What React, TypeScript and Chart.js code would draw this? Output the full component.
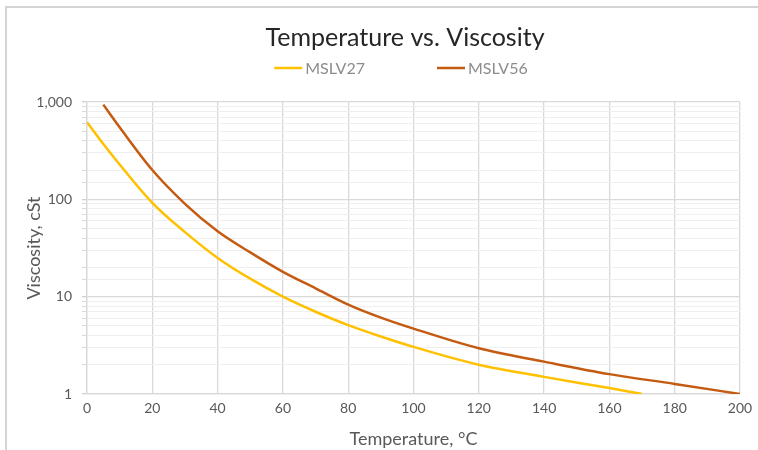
import { useEffect, useRef } from 'react';
import { Chart, registerables } from 'chart.js';

Chart.register(...registerables);

// ---- data ----
const chartTitle = 'Temperature vs. Viscosity';
const xAxisTitle = 'Temperature, °C';
const yAxisTitle = 'Viscosity, cSt';
const seriesNames = ['MSLV27', 'MSLV56'];
const seriesColors = ['#FFC000', '#C55A11'];

const temps27 = [0, 5, 10, 20, 30, 40, 50, 60, 70, 80, 90, 100, 120, 140, 160, 170];
const visc27 = [620, 370, 228, 92, 46, 25, 15.3, 10, 7.0, 5.1, 3.9, 3.05, 2.0, 1.5, 1.15, 1.0];

const temps56 = [5, 10, 20, 30, 40, 50, 60, 70, 80, 90, 100, 120, 140, 160, 180, 200];
const visc56 = [940, 550, 200, 90, 47, 28.5, 18, 12.2, 8.3, 6.1, 4.7, 2.95, 2.15, 1.6, 1.27, 1.0];

const xMin = 0;
const xMax = 200;
const xStep = 20;
const yMin = 1;
const yMax = 1000;

const isMajor = (v: number) => Math.abs(Math.log10(v) - Math.round(Math.log10(v))) < 1e-9;

const legendPlugin = {
  id: 'customLegend',
  afterDraw(chart: any) {
    const ctx = chart.ctx;
    const ds = chart.data.datasets;
    ctx.save();
    ctx.font = '16px Lato';
    const lineLen = 28;
    const gap = 3;
    const between = 72;
    const widths = ds.map((d: any) => lineLen + gap + ctx.measureText(d.label).width);
    const total = widths.reduce((a: number, b: number) => a + b, 0) + between * (ds.length - 1);
    let x = chart.width / 2 - total / 2 - 4;
    const y = 68;
    ds.forEach((d: any, i: number) => {
      ctx.strokeStyle = d.borderColor;
      ctx.lineWidth = 2.5;
      ctx.beginPath();
      ctx.moveTo(x, y);
      ctx.lineTo(x + lineLen, y);
      ctx.stroke();
      ctx.fillStyle = '#8c8c8c';
      ctx.textAlign = 'left';
      ctx.textBaseline = 'middle';
      ctx.fillText(d.label, x + lineLen + gap, y + 1);
      x += widths[i] + between;
    });
    ctx.restore();
  },
};

export default function App() {
  const ref = useRef<HTMLCanvasElement | null>(null);

  useEffect(() => {
    const canvas = ref.current;
    if (!canvas) return;
    const chart = new Chart(canvas, {
      type: 'scatter',
      data: {
        datasets: [
          {
            label: seriesNames[0],
            data: temps27.map((t, i) => ({ x: t, y: visc27[i] })),
            borderColor: seriesColors[0],
            backgroundColor: seriesColors[0],
            showLine: true,
            borderWidth: 2.5,
            pointRadius: 0,
            cubicInterpolationMode: 'monotone',
          },
          {
            label: seriesNames[1],
            data: temps56.map((t, i) => ({ x: t, y: visc56[i] })),
            borderColor: seriesColors[1],
            backgroundColor: seriesColors[1],
            showLine: true,
            borderWidth: 2.5,
            pointRadius: 0,
            cubicInterpolationMode: 'monotone',
          },
        ],
      },
      options: {
        animation: false,
        responsive: false,
        maintainAspectRatio: false,
        layout: { padding: 0 },
        plugins: {
          legend: { display: false },
          tooltip: { enabled: false },
          title: {
            display: true,
            text: chartTitle,
            color: '#262626',
            font: { family: 'Lato', size: 25, weight: 'normal', lineHeight: 1.2 },
            padding: { top: 23, bottom: 49 },
          },
        },
        scales: {
          x: {
            type: 'linear',
            min: xMin,
            max: xMax,
            ticks: {
              stepSize: xStep,
              color: '#595959',
              font: { family: 'Lato', size: 14 },
              padding: 6,
            },
            grid: { color: '#d9d9d9', lineWidth: 1.3, drawTicks: false },
            border: { color: '#d9d9d9', width: 1.3 },
            title: {
              display: true,
              text: xAxisTitle,
              color: '#595959',
              font: { family: 'Lato', size: 18 },
              padding: { top: 4, bottom: 0 },
            },
            afterFit(scale: any) {
              scale.height = 56;
            },
          },
          y: {
            type: 'logarithmic',
            min: yMin,
            max: yMax,
            ticks: {
              autoSkip: false,
              color: '#595959',
              font: { family: 'Lato', size: 14 },
              padding: 10,
              callback: (v: any) => (isMajor(Number(v)) ? Number(v).toLocaleString('en-US') : ''),
            },
            grid: {
              color: (c: any) => (c.tick && isMajor(c.tick.value) ? '#d9d9d9' : '#efefef'),
              tickColor: (c: any) => (c.tick && isMajor(c.tick.value) ? '#d0d0d0' : '#d9d9d9'),
              lineWidth: (c: any) => (c.tick && isMajor(c.tick.value) ? 1.3 : 1),
              tickLength: 5,
            },
            border: { color: '#d9d9d9', width: 1.3 },
            title: {
              display: true,
              text: yAxisTitle,
              color: '#595959',
              font: { family: 'Lato', size: 18 },
              padding: { top: 23, bottom: 4 },
            },
            afterFit(scale: any) {
              scale.width = 87;
            },
          },
          spacer: {
            type: 'linear',
            position: 'right',
            display: true,
            ticks: { display: false },
            grid: { display: false, drawTicks: false },
            border: { display: false },
            afterFit(scale: any) {
              scale.width = 70;
            },
          },
        },
      },
      plugins: [legendPlugin],
    } as any);
    return () => chart.destroy();
  }, []);

  return (
    <div
      style={{
        position: 'fixed',
        left: 0,
        top: 0,
        width: 758,
        height: 450,
        overflow: 'hidden',
        background: '#ffffff',
      }}
    >
      <div
        style={{
          position: 'absolute',
          left: 5,
          top: 6,
          width: 900,
          height: 600,
          border: '2px solid #d4d4d4',
        }}
      />
      <canvas
        ref={ref}
        width={810}
        height={450}
        style={{ position: 'absolute', left: 0, top: 0, width: 810, height: 450 }}
      />
    </div>
  );
}
